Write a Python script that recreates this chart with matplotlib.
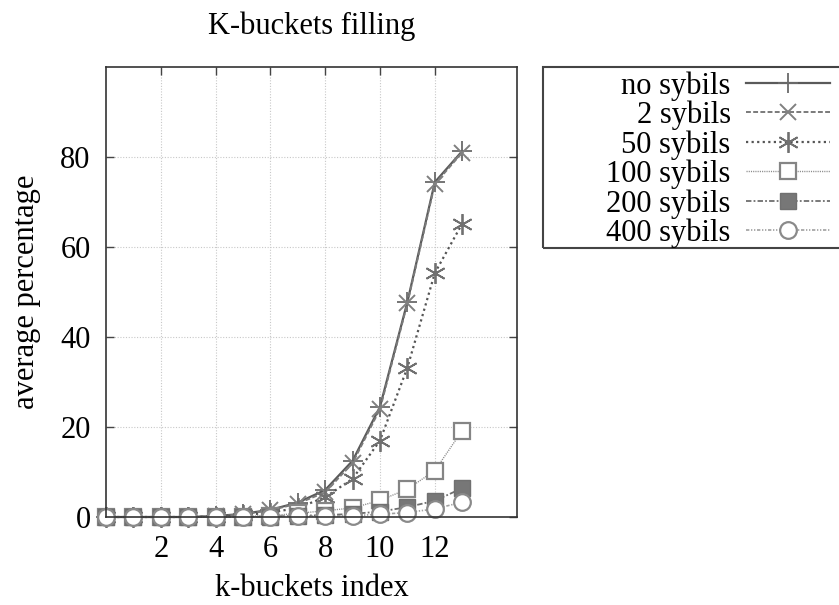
import numpy as np
import matplotlib
matplotlib.use("Agg")
from matplotlib import pyplot as plt
from matplotlib.patches import Rectangle

# data
kbucket_index = list(range(14))
no_sybils = [0, 0, 0, 0, 0.2, 0.7, 1.6, 3.2, 6.0, 12.5, 24.5, 47.8, 74.4, 81.3]
sybils_2 = [0, 0, 0, 0, 0.2, 0.6, 1.5, 3.0, 5.5, 12.0, 24.0, 47.5, 74.0, 81.0]
sybils_50 = [0, 0, 0, 0, 0.1, 0.4, 1.0, 2.0, 4.4, 8.5, 17.0, 33.2, 54.2, 65.2]
sybils_100 = [0, 0, 0, 0, 0, 0.1, 0.3, 0.8, 1.4, 2.0, 3.7, 6.2, 10.3, 19.2]
sybils_200 = [0, 0, 0, 0, 0, 0, 0.1, 0.3, 0.4, 0.7, 1.2, 2.2, 3.6, 6.4]
sybils_400 = [0, 0, 0, 0, 0, 0, 0.1, 0.2, 0.2, 0.3, 0.6, 1.0, 1.8, 3.3]

labels = ["no sybils", "2 sybils", "50 sybils", "100 sybils", "200 sybils", "400 sybils"]
series = [no_sybils, sybils_2, sybils_50, sybils_100, sybils_200, sybils_400]

styles = [
    dict(color="#5a5a5a", mec="#6a6a6a", ls="-", lw=1.6, marker="+", ms=15, mew=1.3, mfc="none"),
    dict(color="#7a7a7a", mec="#808080", ls=(0, (2.5, 1.2)), lw=1.4, marker="x", ms=11, mew=1.4, mfc="none"),
    dict(color="#555555", mec="#707070", ls=(0, (1, 1.5)), lw=1.6, marker=(6, 2, 0), ms=15, mew=1.3, mfc="none"),
    dict(color="#8a8a8a", mec="#858585", ls=(0, (0.8, 0.8)), lw=1.0, marker="s", ms=12, mew=1.6, mfc="white"),
    dict(color="#6e6e6e", mec="#707070", ls=(0, (3, 1.2, 1, 1.2)), lw=1.3, marker="s", ms=11, mew=1.0, mfc="#777777"),
    dict(color="#a0a0a0", mec="#8a8a8a", ls=(0, (2, 1, 0.8, 1, 0.8, 1)), lw=1.2, marker="o", ms=12, mew=1.6, mfc="white"),
]

plt.rcParams["font.family"] = ["Liberation Serif", "DejaVu Serif"]

fig = plt.figure(figsize=(8.39, 6.05), dpi=100)
ax = fig.add_axes([106 / 839, 1 - 517 / 605, 411 / 839, 450 / 605])

for vals, lab, st in zip(series, labels, styles):
    ax.plot(kbucket_index, vals, label=lab, clip_on=False, **st)

ax.set_xlim(0, 15)
ax.set_ylim(0, 100)
ax.set_xticks([2, 4, 6, 8, 10, 12])
ax.set_yticks([0, 20, 40, 60, 80])
ax.tick_params(direction="in", top=True, right=True, length=6, width=1.0,
               labelsize=22, colors="#444444", labelcolor="black")
ax.tick_params(axis="y", pad=11)
ax.tick_params(axis="x", pad=13)
ax.grid(True, color="#c8c8c8", ls=(0, (1, 1.5)), lw=0.8)
for sp in ax.spines.values():
    sp.set_color("#333333")
    sp.set_linewidth(1.2)

ax.set_xlabel("k-buckets index", fontsize=22, labelpad=7)
ax.set_ylabel("average percentage", fontsize=22, labelpad=14)
ax.set_title("K-buckets filling", fontsize=22, pad=24)

leg = fig.legend(loc="upper right", bbox_to_anchor=(833 / 839, 1 - 68 / 605),
                 fontsize=22, markerfirst=False, handlelength=2.75, handletextpad=0.5,
                 labelspacing=0.0, borderpad=0.1, borderaxespad=0, frameon=False)

# legend frame runs off the right edge in the reference
fig.patches.append(Rectangle((543 / 839, 1 - 248 / 605), 0.5, 181 / 605,
                             transform=fig.transFigure, fill=False,
                             edgecolor="#444444", lw=1.5, clip_on=False))

fig.savefig("out.png", dpi=100)
